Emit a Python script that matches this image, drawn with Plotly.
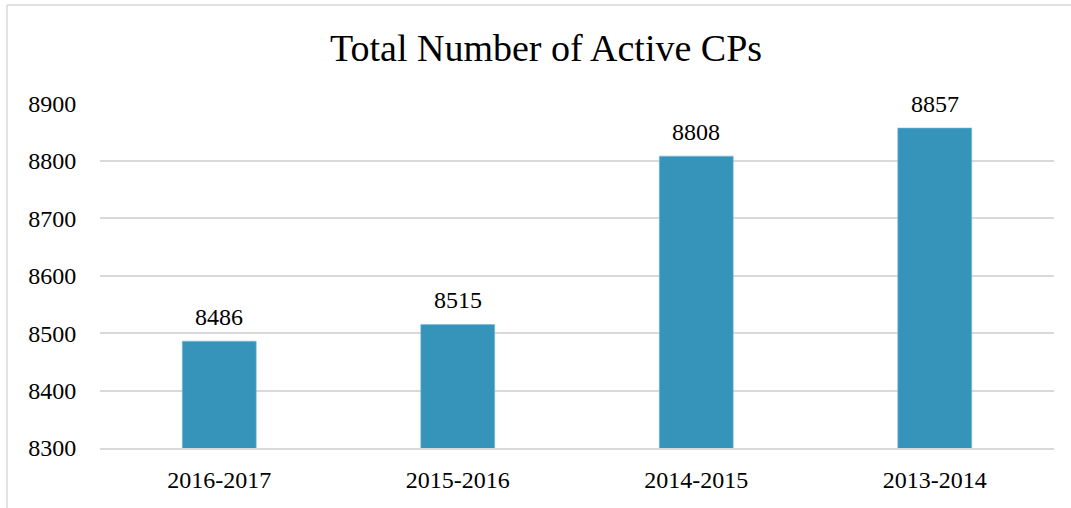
import plotly.graph_objects as go

categories = ["2016-2017", "2015-2016", "2014-2015", "2013-2014"]
values = [8486, 8515, 8808, 8857]
y_ticks = [8300, 8400, 8500, 8600, 8700, 8800, 8900]

FONT = "Liberation Serif"
BAR = "#3694BA"
GRID = "#D9D9D9"

fig = go.Figure()
fig.add_trace(go.Bar(
    x=categories, y=values,
    marker=dict(color=BAR, line=dict(color="#7FBCD6", width=0.6)),
    width=0.31,
))

for c, v in zip(categories, values):
    fig.add_annotation(x=c, y=v, text=str(v), showarrow=False,
                       yanchor="bottom", yshift=9,
                       font=dict(family=FONT, size=24, color="#000000"))

fig.update_layout(
    width=1071, height=508,
    margin=dict(l=100, r=17, t=103, b=60),
    paper_bgcolor="white", plot_bgcolor="white",
    showlegend=False,
    title=dict(text="Total Number of Active CPs", x=(546 - 100) / 954, xref="paper",
               xanchor="center", y=1 - 48 / 508, yanchor="middle",
               font=dict(family=FONT, size=38, color="#000000")),
)
fig.update_xaxes(showgrid=False, showline=True, linecolor=GRID, linewidth=1.5,
                 ticks="outside", ticklen=9, tickcolor="rgba(0,0,0,0)",
                 tickfont=dict(family=FONT, size=24, color="#000000"))
fig.update_yaxes(range=[8300, 8900.5], tickvals=y_ticks, showgrid=True,
                 gridcolor=GRID, gridwidth=1.5, zeroline=False, showline=False,
                 ticks="outside", ticklen=18, tickcolor="rgba(0,0,0,0)",
                 tickfont=dict(family=FONT, size=24, color="#000000"))

# chart frame (top and left edges visible in the reference)
fig.add_shape(type="line", xref="paper", yref="paper",
              x0=(7 - 100) / 954, x1=(1071 - 100) / 954,
              y0=(448 - 5) / 345, y1=(448 - 5) / 345,
              line=dict(color=GRID, width=1.5))
fig.add_shape(type="line", xref="paper", yref="paper",
              x0=(7 - 100) / 954, x1=(7 - 100) / 954,
              y0=(448 - 5) / 345, y1=(448 - 508) / 345,
              line=dict(color=GRID, width=1.5))

fig.write_html("out.html", config={"displayModeBar": False},
               post_script="document.body.style.margin='0';")
